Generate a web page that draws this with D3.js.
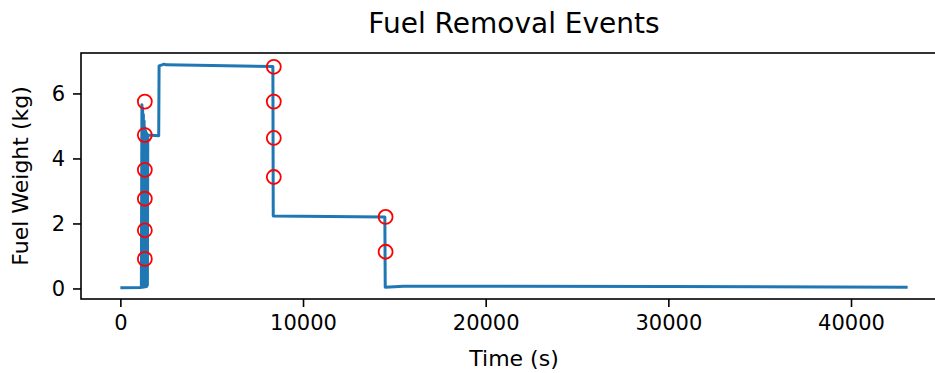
<html>
  <head>
    <script src='https://d3js.org/d3.v7.min.js'></script>
    <style>
      body { margin: 0; background: #fff; }
      text { font-family: 'DejaVu Sans', sans-serif; fill: #000; }
    </style>
  </head>
  <body>
    <svg width=935 height=373></svg>
    <script>
      // fuel weight trace (time in s, weight in kg)
      const times = [0, 1150, 1180, 1200, 1220, 1240, 1260, 1280, 1300, 1320, 1340, 1360,
                     1380, 1400, 1420, 1440, 1460, 1480, 1500, 2100, 2120, 2400, 2500, 5000,
                     8350, 8370, 14480, 14500, 15500, 20000, 30000, 43100];
      const weights = [0.02, 0.03, 5.65, 0.05, 5.55, 0.05, 5.35, 0.04, 5.15, 0.05, 4.95, 0.05,
                       4.85, 0.05, 4.8, 0.06, 4.75, 0.1, 4.72, 4.7, 6.85, 6.9, 6.88, 6.86,
                       6.83, 2.23, 2.2, 0.04, 0.07, 0.07, 0.06, 0.04];

      // removal events (red circles)
      const eventTimes = [1340, 1340, 1340, 1340, 1340, 1340, 8400, 8400, 8400, 8400, 14520, 14520];
      const eventWeights = [5.75, 4.72, 3.65, 2.76, 1.79, 0.91, 6.82, 5.75, 4.63, 3.43, 2.2, 1.13];

      const xTicks = [0, 10000, 20000, 30000, 40000];
      const yTicks = [0, 2, 4, 6];

      const mLeft = 81, mTop = 53, mBottom = 299, mRight = 947;
      const svg = d3.select('svg');

      // matplotlib style 5% margins
      const xe = d3.extent(times), ye = d3.extent(weights.concat(eventWeights));
      const xm = (xe[1] - xe[0]) * 0.05, ym = (ye[1] - ye[0]) * 0.05;
      const x = d3.scaleLinear().domain([xe[0] - xm, xe[1] + xm]).range([mLeft, mRight]);
      const y = d3.scaleLinear().domain([ye[0] - ym, ye[1] + ym]).range([mBottom, mTop]);

      const line = d3.line().x(d => x(d[0])).y(d => y(d[1]));
      svg.append('path')
        .datum(times.map((t, i) => [t, weights[i]]))
        .attr('d', line)
        .attr('fill', 'none')
        .attr('stroke', '#1f77b4')
        .attr('stroke-width', 3)
        .attr('stroke-linejoin', 'round');

      svg.selectAll('circle.ev').data(eventTimes).enter().append('circle')
        .attr('class', 'ev')
        .attr('cx', d => x(d))
        .attr('cy', (d, i) => y(eventWeights[i]))
        .attr('r', 7)
        .attr('fill', 'none')
        .attr('stroke', '#ff0000')
        .attr('stroke-width', 1.8);

      // axes
      const xAxis = d3.axisBottom(x).tickValues(xTicks).tickFormat(d3.format('d')).tickSize(8).tickPadding(8);
      const yAxis = d3.axisLeft(y).tickValues(yTicks).tickSize(8).tickPadding(8);
      const gx = svg.append('g').attr('transform', `translate(0,${mBottom})`).call(xAxis);
      const gy = svg.append('g').attr('transform', `translate(${mLeft},0)`).call(yAxis);
      [gx, gy].forEach(g => {
        g.select('.domain').remove();
        g.selectAll('.tick line').attr('stroke', '#000').attr('stroke-width', 1.6);
        g.selectAll('.tick text').attr('font-size', 21).attr('font-family', 'DejaVu Sans');
      });

      // frame
      svg.append('rect')
        .attr('x', mLeft).attr('y', mTop)
        .attr('width', mRight - mLeft).attr('height', mBottom - mTop)
        .attr('fill', 'none').attr('stroke', '#000').attr('stroke-width', 1.6);

      svg.append('text').attr('x', (mLeft + mRight) / 2).attr('y', 33)
        .attr('text-anchor', 'middle').attr('font-size', 28)
        .text('Fuel Removal Events');
      svg.append('text').attr('x', (mLeft + mRight) / 2).attr('y', 366)
        .attr('text-anchor', 'middle').attr('font-size', 22)
        .text('Time (s)');
      svg.append('text')
        .attr('transform', `translate(28,${(mTop + mBottom) / 2}) rotate(-90)`)
        .attr('text-anchor', 'middle').attr('font-size', 22)
        .text('Fuel Weight (kg)');
    </script>
  </body>
</html>
